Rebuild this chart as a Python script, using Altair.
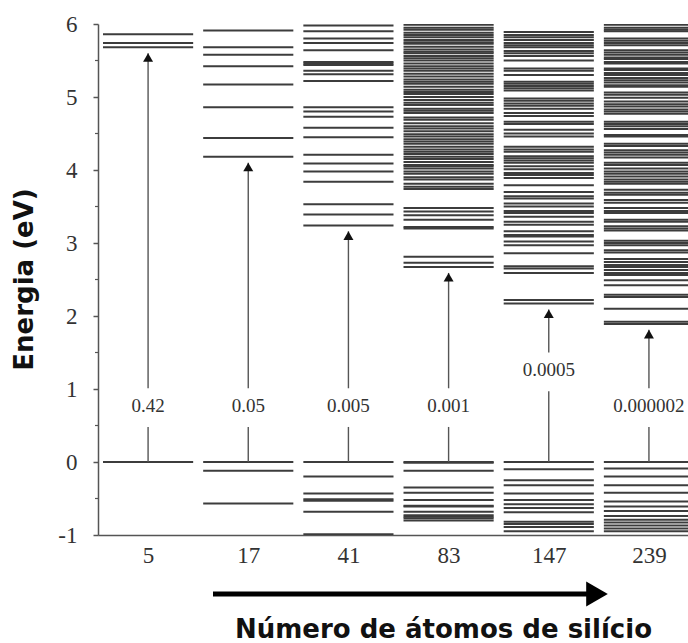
import altair as alt
import pandas as pd

# Cluster sizes (number of Si atoms) and the oscillator strength of the first transition
atoms = ["5", "17", "41", "83", "147", "239"]
strengths = ["0.42", "0.05", "0.005", "0.001", "0.0005", "0.000002"]

# Energy levels (eV) of each cluster, HOMO set to 0
levels_5 = [0.0, 5.68, 5.74, 5.86]
levels_17 = [0.0, -0.12, -0.57,
             4.18, 4.44, 4.86, 5.17, 5.42, 5.58, 5.68, 5.91]
levels_41 = [0.0, -0.20, -0.43, -0.51, -0.53, -0.68, -0.99,
             3.24, 3.39, 3.53, 3.84, 3.98, 4.09, 4.21, 4.45, 4.58, 4.73, 4.80,
             4.86, 5.22, 5.31, 5.36, 5.44, 5.46, 5.48, 5.64, 5.74, 5.80, 5.90,
             5.98]
levels_83 = [0.0, -0.01, -0.12, -0.35, -0.42, -0.52, -0.60, -0.61, -0.68,
             -0.73, -0.75, -0.77, -0.80,
             2.67, 2.73, 2.81, 3.20, 3.22, 3.32, 3.38, 3.43, 3.48,
             3.74, 3.77, 3.81, 3.87, 3.90, 3.95, 3.98, 4.02, 4.05, 4.07, 4.11,
             4.15, 4.18, 4.22, 4.25, 4.28, 4.32, 4.36, 4.39, 4.42, 4.46, 4.49,
             4.53, 4.57, 4.60, 4.64, 4.69, 4.72, 4.78, 4.81, 4.84, 4.89, 4.92,
             4.96, 5.00, 5.04, 5.07, 5.10, 5.14, 5.18, 5.21, 5.24, 5.28, 5.32,
             5.36, 5.39, 5.42, 5.46, 5.50, 5.53, 5.56, 5.60, 5.62, 5.65, 5.69,
             5.73, 5.75, 5.78, 5.82, 5.85, 5.88, 5.92, 5.95, 5.99]
levels_147 = [0.0, -0.10, -0.25, -0.32, -0.43, -0.52, -0.58, -0.63, -0.69,
              -0.82, -0.85, -0.89, -0.95,
              2.17, 2.22, 2.59, 2.65, 2.68, 2.86, 2.97, 3.02, 3.09, 3.11, 3.16,
              3.25, 3.29, 3.36, 3.41, 3.44, 3.50, 3.54, 3.61, 3.64, 3.70, 3.79,
              3.89, 3.93, 3.96, 4.01, 4.05, 4.10, 4.13, 4.16, 4.19, 4.25, 4.28,
              4.32, 4.46, 4.50, 4.55, 4.63, 4.66, 4.74, 4.78, 4.84, 4.88, 4.91,
              4.95, 4.98, 5.09, 5.12, 5.15, 5.18, 5.21, 5.30, 5.36, 5.39, 5.50,
              5.56, 5.60, 5.63, 5.68, 5.71, 5.74, 5.78, 5.82, 5.85, 5.89]
levels_239 = [0.0, -0.09, -0.20, -0.32, -0.42, -0.54, -0.61, -0.67, -0.74,
              -0.79, -0.83, -0.87, -0.91, -0.95,
              1.89, 1.92, 2.10, 2.26, 2.29, 2.42, 2.49, 2.56, 2.59, 2.63, 2.67,
              2.70, 2.74, 2.78, 2.87, 2.90, 2.97, 3.00, 3.03, 3.17, 3.20, 3.23,
              3.29, 3.32, 3.41, 3.44, 3.48, 3.55, 3.59, 3.66, 3.69, 3.73, 3.81,
              3.84, 3.87, 3.91, 3.95, 3.98, 4.02, 4.07, 4.10, 4.17, 4.21, 4.24,
              4.27, 4.33, 4.36, 4.46, 4.48, 4.56, 4.60, 4.63, 4.66, 4.77, 4.80,
              4.83, 4.87, 4.90, 4.94, 4.99, 5.03, 5.06, 5.14, 5.16, 5.20, 5.23,
              5.26, 5.30, 5.33, 5.37, 5.39, 5.46, 5.48, 5.52, 5.54, 5.58, 5.61,
              5.64, 5.71, 5.74, 5.77, 5.80, 5.90, 5.92, 5.95, 5.99]

all_levels = [levels_5, levels_17, levels_41, levels_83, levels_147, levels_239]

# LUMO of each cluster (arrow target) and height of the strength label on the arrow
lumo = [5.68, 4.18, 3.24, 2.67, 2.17, 1.89]
label_level = [0.77, 0.77, 0.77, 0.77, 1.26, 0.77]

levels_df = pd.DataFrame(
    [{"idx": i, "energy": e} for i, lv in enumerate(all_levels) for e in lv]
)
arrows_df = pd.DataFrame({
    "idx": list(range(len(atoms))),
    "strength": strengths,
    "lumo": lumo,
    "label_level": label_level,
})
minor_df = pd.DataFrame({"energy": [-0.5, 0.5, 1.5, 2.5, 3.5, 4.5, 5.5]})

x_scale = alt.Scale(domain=[-0.5, 5.39], nice=False, zero=False)
y_scale = alt.Scale(domain=[-1, 6], nice=False, zero=False)

label_lookup = "[" + ",".join(f"'{a}'" for a in atoms) + "][datum.value]"

x_axis = alt.Axis(
    values=list(range(len(atoms))), labelExpr=label_lookup, ticks=False,
    grid=False, labelFlush=False, labelFont="Liberation Serif",
    labelFontSize=23, labelPadding=9, labelColor="#333",
    domainColor="#555", domainWidth=1.5,
    title="Número de átomos de silício", titleFont="DejaVu Sans",
    titleFontWeight="bold", titleFontSize=26, titleColor="#111",
    titleX=345, titleY=102, titleAlign="center", titleBaseline="alphabetic",
)
y_axis = alt.Axis(
    values=list(range(-1, 7)), labelExpr="'' + datum.value", grid=False,
    tickSize=5, tickColor="#555", tickWidth=1.5,
    domainColor="#555", domainWidth=1.5, labelFont="Liberation Serif",
    labelFontSize=23, labelPadding=16, labelColor="#333",
    title="Energia (eV)", titleFont="DejaVu Sans", titleFontWeight="bold",
    titleFontSize=26, titleColor="#111", titleAngle=-90,
    titleX=-74, titleY=255, titleAlign="center", titleBaseline="middle",
)


def xq(field):
    return alt.X(field, type="quantitative", scale=x_scale, axis=x_axis)


def yq(field):
    return alt.Y(field, type="quantitative", scale=y_scale, axis=y_axis)


# Horizontal energy levels, one block per cluster
levels = alt.Chart(levels_df).mark_rule(
    color="#3c3c3c", strokeWidth=2, clip=True
).transform_calculate(
    x0="datum.idx - 0.45", x1="datum.idx + 0.45"
).encode(
    x=xq("x0"),
    x2="x1:Q",
    y=yq("energy"),
)

arrow_base = alt.Chart(arrows_df).transform_calculate(
    zero="0",
    stub_top="datum.label_level - 0.29",
    shaft_bottom="datum.label_level + 0.24",
    tip="datum.lumo - 0.08",
)

lower_stub = arrow_base.mark_rule(color="#555", strokeWidth=1.4).encode(
    x=xq("idx"), y=yq("zero"), y2="stub_top:Q",
)
upper_shaft = arrow_base.mark_rule(color="#555", strokeWidth=1.4).encode(
    x=xq("idx"), y=yq("shaft_bottom"), y2="tip:Q",
)
heads = arrow_base.mark_point(
    shape="triangle-up", filled=True, size=100, color="#111", opacity=1,
    yOffset=4.3,
).encode(x=xq("idx"), y=yq("tip"))
labels = arrow_base.mark_text(
    font="Liberation Serif", fontSize=19, color="#333", baseline="middle"
).encode(x=xq("idx"), y=yq("label_level"), text="strength:N")

# Minor ticks on the energy axis
minor_ticks = alt.Chart(minor_df).mark_rule(color="#555", strokeWidth=1.2).encode(
    y=yq("energy"),
    x=alt.value(-3),
    x2=alt.value(0),
)

# Large arrow under the axis: size increases to the right
big_shaft = alt.Chart(minor_df.head(1)).mark_rule(
    color="#000", strokeWidth=5
).encode(x=alt.value(115), x2=alt.value(493), y=alt.value(570))
big_head = alt.Chart(minor_df.head(1)).mark_point(
    shape="triangle-right", filled=True, size=625, color="#000", opacity=1
).encode(x=alt.value(499), y=alt.value(570))

chart = alt.layer(
    levels, lower_stub, upper_shaft, heads, labels, minor_ticks,
    big_shaft, big_head,
).properties(
    width=590, height=511,
    background="white",
    padding={"left": 98, "top": 24, "right": 0, "bottom": 108},
    autosize=alt.AutoSizeParams(type="none"),
).configure_view(stroke=None)

chart.save("out.html", embed_options={"renderer": "svg", "actions": False})
